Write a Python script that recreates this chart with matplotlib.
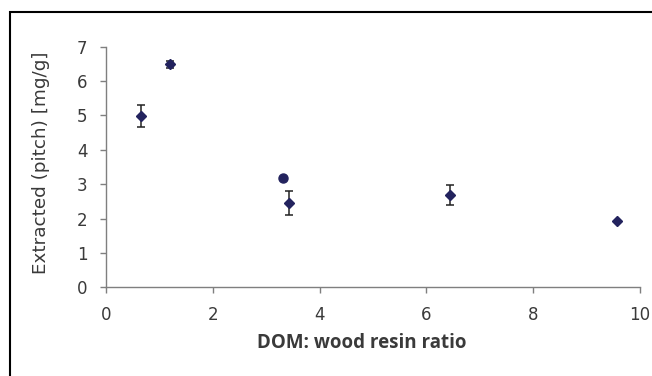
import matplotlib.pyplot as plt
from matplotlib.patches import Rectangle

#%% data
ratio  = [0.65, 1.20, 3.43, 6.44, 9.56]
pitch  = [4.98, 6.49, 2.44, 2.68, 1.93]
err    = [0.33, 0.10, 0.35, 0.29, 0.00]

ratio_circ = [3.32]
pitch_circ = [3.17]

xticks = [0, 2, 4, 6, 8, 10]
yticks = [0, 1, 2, 3, 4, 5, 6, 7]

#%% plot
fig = plt.figure(figsize=(6.52, 3.76), dpi=100)
ax = fig.add_axes([0.1626, 0.2359, 0.8190, 0.6399])

navy = '#23235e'
ax.errorbar(ratio, pitch, yerr=err, fmt='D', color=navy, ms=5.5,
            ecolor='#222222', elinewidth=1.1, capsize=3, capthick=1.1)
ax.plot(ratio_circ, pitch_circ, 'o', color=navy, ms=6.5)

ax.set_xlim(0, 10)
ax.set_ylim(0, 7)
ax.set_xticks(xticks)
ax.set_yticks(yticks)

for s in ['top', 'right']:
    ax.spines[s].set_visible(False)
for s in ['left', 'bottom']:
    ax.spines[s].set_color('#7f7f7f')
    ax.spines[s].set_linewidth(1.0)

ax.tick_params(direction='out', length=4.3, width=1, color='#7f7f7f',
               labelsize=12, labelcolor='#3a3a3a')
ax.tick_params(axis='y', pad=9)
ax.tick_params(axis='x', pad=9.5)

ax.set_ylabel('Extracted (pitch) [mg/g]', fontsize=13.2, color='#3a3a3a')
ax.yaxis.set_label_coords(-0.105, 0.516)
ax.set_xlabel('DOM: wood resin ratio', fontsize=13.5, fontweight='bold',
              family='Open Sans', color='#3a3a3a', va='top')
ax.xaxis.set_label_coords(0.478, -0.19)

# outer frame of the picture
fig.patches.append(Rectangle((10/652, -0.02), 1.0, 1 - 12/376 + 0.02,
                             transform=fig.transFigure, fill=False,
                             edgecolor='black', linewidth=1.5, clip_on=False))

plt.savefig('out.png', dpi=100)
